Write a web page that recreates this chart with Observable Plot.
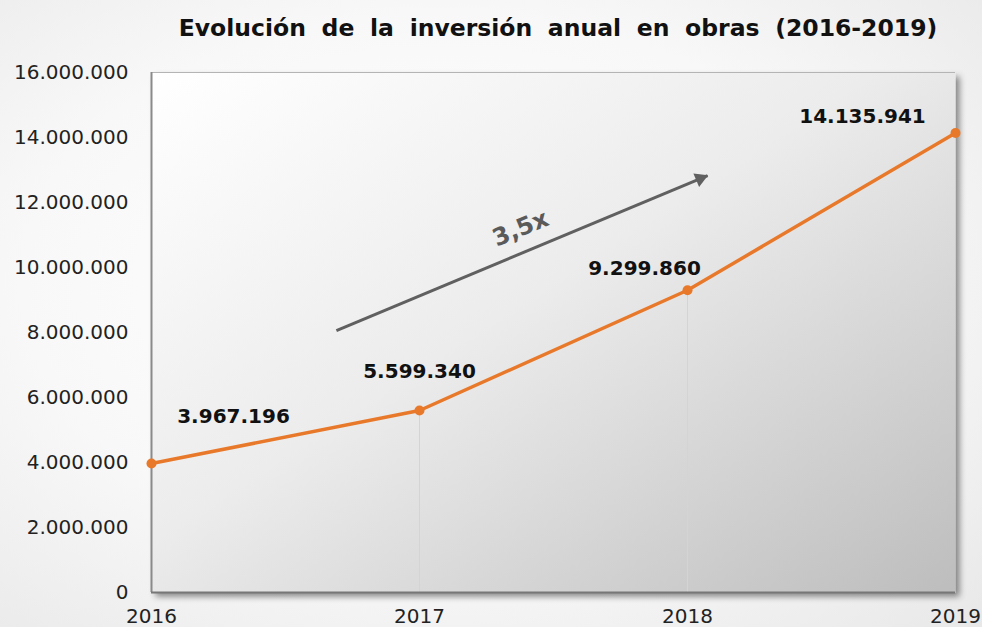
<!DOCTYPE html>
<html>
<head>
<meta charset="utf-8">
<script src="https://cdn.jsdelivr.net/npm/d3@7"></script>
<script src="https://cdn.jsdelivr.net/npm/@observablehq/plot@0.6"></script>
<style>
  html, body { margin: 0; padding: 0; }
  body {
    width: 982px; height: 627px; overflow: hidden;
    background: radial-gradient(ellipse at 45% 45%, #ffffff 0%, #f8f8f8 55%, #e8e8e8 100%);
    font-family: "DejaVu Sans", Verdana, sans-serif;
  }
  #title {
    height: 55px; margin-left: 156px; width: 804px; text-align: center;
    font-weight: bold; font-size: 23.5px; line-height: 56px; color: #111;
    word-spacing: 7.5px; white-space: nowrap;
  }
</style>
</head>
<body>
<div id="title">Evolución de la inversión anual en obras (2016-2019)</div>
<div id="chart"></div>
<script>
// ---- data ----
const years = [2016, 2017, 2018, 2019];
const investment = [3967196, 5599340, 9299860, 14135941];
const yTicks = [0, 2000000, 4000000, 6000000, 8000000, 10000000, 12000000, 14000000, 16000000];
const growthLabel = "3,5x";
// annotation arrow (data coordinates)
const arrowFrom = {year: 2016.69, value: 8060000};
const arrowTo = {year: 2018.075, value: 12830000};
const growthTextAt = {year: 2017.377, value: 11200000};

// ---- presentation ----
const data = years.map((y, i) => ({year: y, value: investment[i]}));
const esLocale = d3.formatLocale({decimal: ",", thousands: ".", grouping: [3], currency: ["", " €"]});
const fmt = esLocale.format(",");
const labelOffsets = [[82, -47], [0, -39], [-43, -22], [-93, -16]];
const orange = "#E8792B";

const marks = [
  Plot.frame({fill: "url(#bgGrad)", stroke: "none"}),
  Plot.ruleX(data.filter(d => d.year > 2016 && d.year < 2019), {x: "year", y1: 0, y2: "value", stroke: "#d4d4d4", strokeWidth: 1}),
  Plot.ruleY([16000000], {stroke: "#b4b4b4", strokeWidth: 1}),
  Plot.ruleX([2016], {stroke: "#8a8a8a", strokeWidth: 2}),
  Plot.ruleY([0], {stroke: "#777777", strokeWidth: 2}),
  Plot.line(data, {x: "year", y: "value", stroke: orange, strokeWidth: 3.5}),
  Plot.dot(data, {x: "year", y: "value", r: 5, fill: orange, stroke: "none"}),
  ...data.map((d, i) => Plot.text([d], {
    x: "year", y: "value", text: r => fmt(r.value),
    dx: labelOffsets[i][0], dy: labelOffsets[i][1],
    fontWeight: "bold", fontSize: 20, fill: "#111"
  })),
  Plot.link([{a: arrowFrom, b: arrowTo}], {
    x1: d => d.a.year, y1: d => d.a.value, x2: d => d.b.year, y2: d => d.b.value,
    stroke: "#606060", strokeWidth: 3
  }),
  Plot.dot([arrowTo], {x: "year", y: "value", symbol: "triangle", r: 5.5, rotate: 67.3, dx: -7.4, dy: 3.1, fill: "#606060", stroke: "none"}),
  Plot.text([growthTextAt], {x: "year", y: "value", text: () => growthLabel, rotate: -22.7, fontSize: 24, fontWeight: "bold", fill: "#5a5a5a"})
];

const plot = Plot.plot({
  width: 982,
  height: 572,
  marginTop: 17,
  marginBottom: 35,
  marginLeft: 151,
  marginRight: 27,
  style: {background: "transparent", fontFamily: "DejaVu Sans, Verdana, sans-serif", fontSize: "20px", color: "#222", overflow: "visible"},
  x: {domain: [2016, 2019], ticks: years, tickFormat: d => String(d), tickSize: 0, tickPadding: 16, label: null},
  y: {domain: [0, 16000000], ticks: yTicks, tickFormat: fmt, tickSize: 0, tickPadding: 23, label: null},
  marks
});

// gradient + shadow defs
const svg = d3.select(plot.tagName === "svg" ? plot : plot.querySelector("svg"));
const defs = svg.insert("defs", ":first-child");
const g = defs.append("linearGradient").attr("id", "bgGrad").attr("x1", 0).attr("y1", 0).attr("x2", 1).attr("y2", 1);
g.append("stop").attr("offset", "0%").attr("stop-color", "#ffffff");
g.append("stop").attr("offset", "45%").attr("stop-color", "#ececec");
g.append("stop").attr("offset", "100%").attr("stop-color", "#bdbdbd");
const f = defs.append("filter").attr("id", "shadow").attr("x", "-5%").attr("y", "-5%").attr("width", "115%").attr("height", "115%");
f.append("feDropShadow").attr("dx", 4).attr("dy", 4).attr("stdDeviation", 3).attr("flood-color", "#000").attr("flood-opacity", 0.45);
svg.selectAll('[aria-label="frame"]').attr("filter", "url(#shadow)");

document.getElementById("chart").appendChild(plot);
</script>
</body>
</html>
